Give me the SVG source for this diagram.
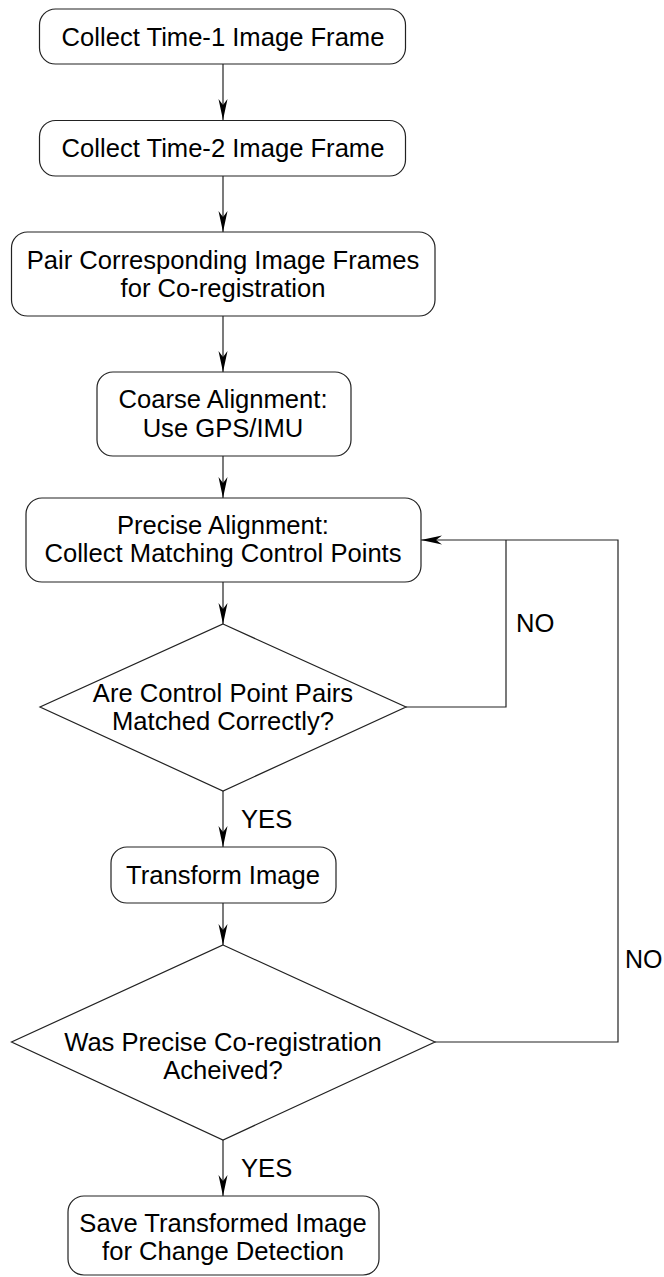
<svg xmlns="http://www.w3.org/2000/svg" width="664" height="1277" viewBox="0 0 664 1277">
<defs>
<marker id="ah" viewBox="-22 -6 24 12" refX="0" refY="0" markerWidth="24" markerHeight="12" markerUnits="userSpaceOnUse" orient="auto">
<path d="M0,0 L-21,-4.5 L-15,0 L-21,4.5 Z" fill="#000"/>
</marker>
</defs>
<style>
.n rect, .n polygon { fill:#fff; stroke:#222; stroke-width:1.2; }
.c { fill:none; stroke:#222; stroke-width:1.2; }
text { font-family:"Liberation Sans", Arial, sans-serif; font-size:25.6px; fill:#000; text-anchor:middle; }
.l { text-anchor:start; }
</style>
<g id="connectors">
<line class="c" x1="223" y1="64" x2="223" y2="120" marker-end="url(#ah)"/>
<line class="c" x1="223" y1="176" x2="223" y2="232" marker-end="url(#ah)"/>
<line class="c" x1="223" y1="316" x2="223" y2="372" marker-end="url(#ah)"/>
<line class="c" x1="223" y1="456" x2="223" y2="498" marker-end="url(#ah)"/>
<line class="c" x1="223" y1="582" x2="223" y2="624" marker-end="url(#ah)"/>
<polyline class="c" points="406,707 506,707 506,540"/>
<polyline class="c" points="435,1042 618,1042 618,540 421,540" marker-end="url(#ah)"/>
<line class="c" x1="223" y1="791" x2="223" y2="847" marker-end="url(#ah)"/>
<line class="c" x1="223" y1="903" x2="223" y2="945" marker-end="url(#ah)"/>
<line class="c" x1="223" y1="1140" x2="223" y2="1196" marker-end="url(#ah)"/>
<text class="l" x="516" y="632">NO</text>
<text class="l" x="625" y="968" style="font-size:25px">NO</text>
<text class="l" x="241" y="828">YES</text>
<text class="l" x="241" y="1177">YES</text>
</g>
<g id="n1" class="n">
<rect x="39.5" y="9" width="366" height="55" rx="16"/>
<text x="223" y="46">Collect Time-1 Image Frame</text>
</g>
<g id="n2" class="n">
<rect x="39.5" y="120.5" width="366" height="55.5" rx="16"/>
<text x="223" y="157">Collect Time-2 Image Frame</text>
</g>
<g id="n3" class="n">
<rect x="11.5" y="232" width="423.5" height="84" rx="16"/>
<text x="223" y="269">Pair Corresponding Image Frames</text>
<text x="223" y="297">for Co-registration</text>
</g>
<g id="n4" class="n">
<rect x="97" y="372" width="254" height="84" rx="16"/>
<text x="223" y="408">Coarse Alignment:</text>
<text x="223" y="437">Use GPS/IMU</text>
</g>
<g id="n5" class="n">
<rect x="26" y="498" width="395" height="84" rx="16"/>
<text x="223" y="534">Precise Alignment:</text>
<text x="223" y="562">Collect Matching Control Points</text>
</g>
<g id="n6" class="n">
<polygon points="223,624 406,707 223,791 40,707"/>
<text x="223" y="702">Are Control Point Pairs</text>
<text x="223" y="730">Matched Correctly?</text>
</g>
<g id="n7" class="n">
<rect x="111" y="847" width="225" height="56" rx="16"/>
<text x="223" y="884">Transform Image</text>
</g>
<g id="n8" class="n">
<polygon points="223,945 435,1042 223,1140 11.5,1042"/>
<text x="223" y="1051">Was Precise Co-registration</text>
<text x="223" y="1079">Acheived?</text>
</g>
<g id="n9" class="n">
<rect x="68" y="1196" width="311" height="79" rx="16"/>
<text x="223" y="1232">Save Transformed Image</text>
<text x="223" y="1260">for Change Detection</text>
</g>
</svg>
